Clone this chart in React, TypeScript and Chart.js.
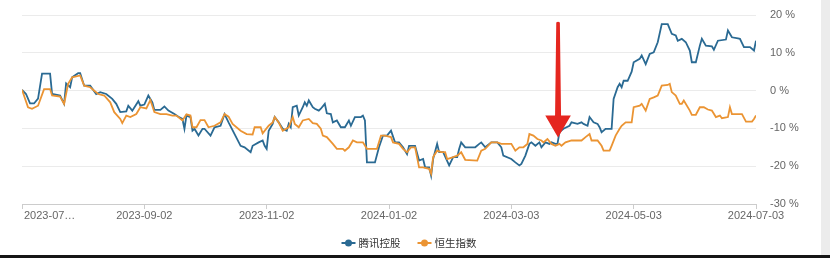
import React, { useEffect, useRef } from 'react';
import { Chart, registerables } from 'chart.js';

Chart.register(...registerables);

// x values are day offsets from 2023-07-03
const xTickDays = [0, 61, 122, 183, 244, 305, 366];
const xTickLabels = ['2023-07…', '2023-09-02', '2023-11-02', '2024-01-02', '2024-03-03', '2024-05-03', '2024-07-03'];
const yTickValues = [-30, -20, -10, 0, 10, 20];

const seriesNames = ['腾讯控股', '恒生指数'];
const seriesColors = ['#2a6a93', '#eb9433'];

const tencentDays = [0,2,4,6,8,10,14,15,19,21,22,24,25,28,29,31,34,37,39,42,45,47,49,52,53,55,58,59,61,63,65,66,69,71,73,76,78,80,81,82,84,85,86,88,90,91,94,96,99,101,103,106,109,111,114,115,118,120,121,122,123,125,126,128,130,132,133,134,135,137,138,140,141,142,143,145,146,148,149,151,152,154,155,157,159,161,163,164,166,169,170,171,172,176,178,180,182,184,186,188,190,192,193,196,198,200,201,203,204,205,207,208,210,213,215,217,218,219,221,226,228,229,231,234,237,239,240,244,246,248,249,251,253,254,256,258,259,261,263,264,266,267,268,270,273,274,277,279,280,282,283,285,287,288,289,291,294,295,297,298,299,300,302,304,305,308,309,311,313,315,317,319,322,324,326,327,329,331,333,334,336,338,339,341,344,345,347,351,352,354,357,358,360,363,365,366];
const tencentPct = [0.2,-0.9,-3.4,-3.4,-2.1,4.5,4.5,-0.9,-1.3,-3.5,1.9,0.9,3.5,4.6,4.6,1.3,1.3,-0.9,-0.4,-0.9,-2.2,-3.5,-5.7,-5.5,-4,-5.3,-2.8,-4,-3.7,-1.3,-3.1,-5.1,-5.1,-4.2,-5.3,-6.2,-6.9,-7.5,-10.1,-6.6,-7,-10.6,-10.1,-11.9,-10.1,-10.1,-11.9,-9.7,-9.3,-6.2,-8.4,-11.5,-14.6,-15,-16.3,-14.6,-13.7,-13.2,-14.6,-15.4,-10.6,-8.8,-7,-8.4,-10.1,-10.6,-8.8,-9.7,-4.4,-4,-6.6,-4.4,-3.1,-4,-2.6,-4.4,-4.8,-5.3,-4.8,-3.5,-6,-6.2,-8.4,-7.9,-9.7,-9.7,-7.9,-9.3,-7,-7,-6.6,-7.9,-19,-19,-15,-11.9,-11.9,-10.6,-13.7,-13.7,-15,-16.8,-14.6,-14.6,-18.5,-18.1,-20.3,-20.3,-22.5,-18.1,-14.1,-16.3,-16.3,-19.8,-17.6,-17.6,-15.4,-13.7,-15,-15,-14.1,-13.7,-15,-13.7,-13.7,-15,-17.2,-18.1,-19,-19.8,-19.4,-17.2,-14.1,-13.7,-14.6,-13.7,-15,-13.7,-14.1,-13.7,-14.1,-14.1,-11,-10.1,-9.3,-8.4,-8.8,-8.4,-8.8,-9.3,-7,-8.4,-8.8,-9.7,-11,-10.1,-10.1,-2.2,0.9,1.8,0.9,2.6,2.6,5,7.5,8.4,9.3,7,9.7,10.1,12.8,17.6,17.6,15,14.6,13.2,13.7,12.8,10.6,7.5,7.5,11.9,13.7,11.9,11.7,10.8,13.2,13.5,15.9,14.1,13.8,13.7,11.5,11.5,10.6,13.2];

const hsiDays = [0,3,5,8,11,14,15,19,21,23,25,29,31,34,38,41,44,46,49,50,52,54,57,59,62,64,66,69,72,75,77,80,82,84,85,87,89,91,93,96,99,101,103,105,109,112,115,116,119,120,123,125,126,128,130,133,135,136,138,140,143,145,147,149,150,152,155,157,160,161,163,165,167,170,172,177,179,181,184,185,188,190,192,194,196,198,200,203,204,205,207,209,211,212,215,217,219,221,227,229,231,234,237,239,241,244,246,248,250,252,253,255,257,259,260,262,264,266,268,269,271,274,279,281,283,284,287,289,290,293,294,296,298,299,301,304,305,308,309,311,313,315,317,318,319,322,323,324,326,328,329,330,333,334,336,338,340,342,344,346,348,349,352,353,354,359,361,364,365,366];
const hsiPct = [0.2,-4.4,-4.8,-4,0.4,0.4,-1.3,-1.6,-3.5,1.8,3.5,4,1.3,0.9,-0.9,-1.3,-3.1,-5.7,-7.5,-8.6,-6.6,-7,-6.2,-4.4,-4.7,-2.5,-5.7,-6.2,-6.2,-6.6,-6.6,-7.9,-6.3,-6.6,-9.7,-9.7,-7.8,-7.8,-9.7,-9.3,-8.4,-6.2,-6.9,-8.8,-10.6,-11.5,-11.6,-9.7,-9.7,-11.3,-9.3,-8.4,-7,-8.4,-10.6,-9.7,-7,-8.8,-9.7,-7.9,-7.5,-8.6,-8.8,-10.1,-11.9,-12.3,-14.1,-15.4,-15.4,-15.9,-15,-13.2,-13.7,-13.7,-15.4,-15.4,-11.9,-11.9,-12.3,-13.7,-14.1,-15.4,-16.3,-15,-15,-20.3,-20.3,-20.7,-22,-17.6,-15.9,-16.3,-16.3,-18.1,-17.6,-17.2,-16.3,-18.3,-18.5,-15.9,-15.4,-13.7,-13.7,-14.1,-14.1,-14.1,-15.9,-15,-15,-14.1,-11.5,-11.9,-12.8,-13.2,-13.7,-12.8,-14.1,-14.6,-14.1,-14.6,-13.7,-13.2,-13.2,-12.3,-11.5,-13.2,-13.2,-14.6,-15.9,-15.9,-14.6,-11.9,-10.1,-9.3,-8.4,-8.4,-4.4,-4,-3.5,-5.3,-2.2,-1.8,-1.3,0,1.3,1.5,1.8,-0.4,-1.3,-3.5,-3.5,-2.6,-5.3,-6.4,-6.4,-4.4,-4.4,-5,-5.3,-7,-6.6,-7.3,-7,-4.4,-6.2,-6.2,-8.2,-8.2,-7.5,-6.6];

// annotation arrow (day offset, from / to percentage)
const arrowDay = 267.3;
const arrowFromPct = 18;
const arrowToPct = -12.4;

const TICK_FONT = '11px "Liberation Sans", Arial, sans-serif';
const LEGEND_FONT = '10.5px "Noto Sans CJK SC", sans-serif';
const LEGEND_CENTER_X = 409;

const overlayPlugin = {
  id: 'overlay',
  afterDraw(chart: any) {
    const ctx = chart.ctx as CanvasRenderingContext2D;
    const xs = chart.scales.x;
    const ys = chart.scales.y;
    const area = chart.chartArea;
    ctx.save();
    // x tick labels
    ctx.font = TICK_FONT;
    ctx.fillStyle = '#666';
    ctx.textBaseline = 'middle';
    xTickDays.forEach((d, i) => {
      const px = xs.getPixelForValue(d);
      if (i === 0) {
        ctx.textAlign = 'left';
        ctx.fillText(xTickLabels[i], px + 2, area.bottom + 12);
      } else {
        ctx.textAlign = 'center';
        ctx.fillText(xTickLabels[i], px, area.bottom + 12);
      }
    });
    // legend
    ctx.font = LEGEND_FONT;
    ctx.textAlign = 'left';
    const iconW = 14;
    const iconGap = 3;
    const itemGap = 17;
    const widths = seriesNames.map((n) => ctx.measureText(n).width);
    const total = widths.reduce((a, w) => a + iconW + iconGap + w, 0) + itemGap * (seriesNames.length - 1);
    let lx = LEGEND_CENTER_X - total / 2;
    const ly = area.bottom + 39;
    seriesNames.forEach((n, i) => {
      const col = seriesColors[i];
      ctx.strokeStyle = col;
      ctx.lineWidth = 2;
      ctx.beginPath();
      ctx.moveTo(lx, ly);
      ctx.lineTo(lx + iconW, ly);
      ctx.stroke();
      ctx.fillStyle = col;
      ctx.beginPath();
      ctx.arc(lx + iconW / 2, ly, 3.5, 0, Math.PI * 2);
      ctx.fill();
      ctx.fillStyle = '#333';
      ctx.fillText(n, lx + iconW + iconGap, ly + 0.5);
      lx += iconW + iconGap + widths[i] + itemGap;
    });
    // red arrow annotation
    const ax = xs.getPixelForValue(arrowDay);
    const yTop = ys.getPixelForValue(arrowFromPct);
    const yTip = ys.getPixelForValue(arrowToPct);
    const headLen = 22;
    const headHalf = 12.8;
    ctx.fillStyle = '#e5261f';
    ctx.beginPath();
    ctx.moveTo(ax - 1.8, yTop);
    ctx.quadraticCurveTo(ax, yTop - 1.5, ax + 1.8, yTop);
    ctx.lineTo(ax + 3, yTip - headLen);
    ctx.lineTo(ax + headHalf, yTip - headLen);
    ctx.lineTo(ax, yTip);
    ctx.lineTo(ax - headHalf, yTip - headLen);
    ctx.lineTo(ax - 3, yTip - headLen);
    ctx.closePath();
    ctx.fill();
    ctx.restore();
  },
};

export default function App() {
  const ref = useRef<HTMLCanvasElement>(null);

  useEffect(() => {
    const canvas = ref.current;
    if (!canvas) return;
    const chart = new Chart(canvas, {
      type: 'line',
      data: {
        datasets: [
          {
            label: seriesNames[0],
            data: tencentDays.map((d, i) => ({ x: d, y: tencentPct[i] })),
            borderColor: seriesColors[0],
            backgroundColor: seriesColors[0],
            order: 1,
          },
          {
            label: seriesNames[1],
            data: hsiDays.map((d, i) => ({ x: d, y: hsiPct[i] })),
            borderColor: seriesColors[1],
            backgroundColor: seriesColors[1],
            order: 0,
          },
        ],
      },
      options: {
        responsive: false,
        animation: false,
        devicePixelRatio: 1,
        layout: { padding: { left: 22, top: 15, bottom: 49, right: 0 } },
        elements: {
          point: { radius: 0, hoverRadius: 0 },
          line: { tension: 0, borderWidth: 1.8 },
        },
        plugins: {
          legend: { display: false },
          tooltip: { enabled: false },
        },
        scales: {
          x: {
            type: 'linear',
            min: 0,
            max: 366,
            afterBuildTicks: (s: any) => {
              s.ticks = xTickDays.map((v) => ({ value: v }));
            },
            ticks: { display: false },
            grid: { drawOnChartArea: false, drawTicks: true, tickLength: 5, color: '#cccccc' },
            border: { display: true, color: '#cccccc' },
          },
          y: {
            position: 'right',
            min: -30,
            max: 20,
            afterBuildTicks: (s: any) => {
              s.ticks = yTickValues.map((v) => ({ value: v }));
            },
            afterFit: (s: any) => {
              s.width = 74;
              s.paddingTop = 0;
              s.paddingBottom = 0;
            },
            ticks: {
              padding: 14,
              color: '#666',
              font: { family: '"Liberation Sans", Arial, sans-serif', size: 11 },
              callback: (v: any) => `${v} %`,
            },
            grid: {
              drawTicks: false,
              color: (c: any) => (c.tick && c.tick.value === -30 ? '#cccccc' : '#ebebeb'),
            },
            border: { display: false },
          },
        },
      },
      plugins: [overlayPlugin],
    });
    return () => chart.destroy();
  }, []);

  return (
    <div style={{ position: 'absolute', left: 0, top: 0, width: 830, height: 258, background: '#fff', overflow: 'hidden' }}>
      <canvas ref={ref} width={830} height={258} style={{ display: 'block', width: 830, height: 258 }} />
      <div style={{ position: 'absolute', left: 821, top: 0, width: 9, height: 258, background: '#ececec' }} />
      <div style={{ position: 'absolute', left: 0, top: 255, width: 830, height: 3, background: '#151515' }} />
    </div>
  );
}
